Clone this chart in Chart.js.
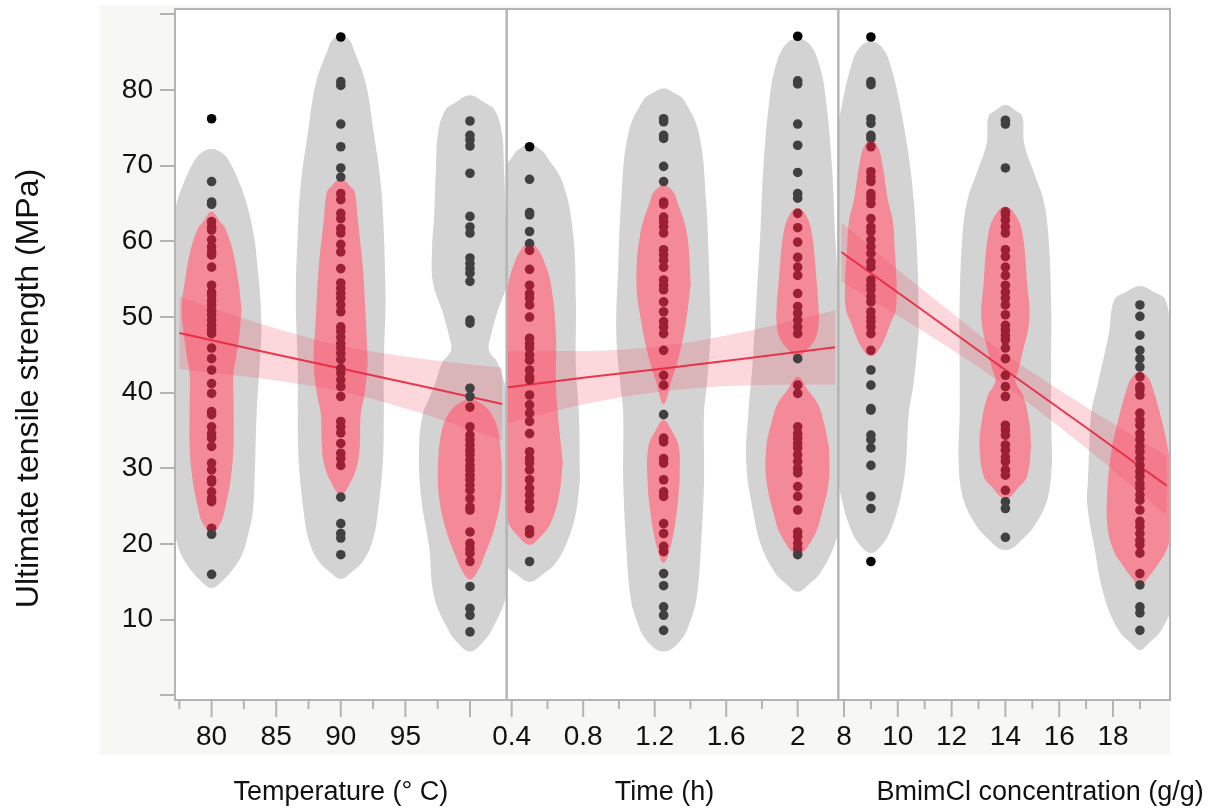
<!DOCTYPE html>
<html lang="en">
<head>
<meta charset="UTF-8">
<title>Ultimate tensile strength vs. process variables</title>
<script src="https://cdn.jsdelivr.net/npm/chart.js@4.4.1/dist/chart.umd.min.js"></script>
<style>
  html, body { margin: 0; padding: 0; background: #fff; }
  #wrap { width: 1227px; height: 809px; }
</style>
</head>
<body>
<div id="wrap"><canvas id="chart" width="1227" height="809"></canvas></div>
<script>
// ---------- axis ticks ----------
const yTicks = [0, 10, 20, 30, 40, 50, 60, 70, 80, 90];
const yLabels = ['', '10', '20', '30', '40', '50', '60', '70', '80', ''];
const yTitle = 'Ultimate tensile strength (MPa)';

const tempTicks = [77.5, 80, 82.5, 85, 87.5, 90, 92.5, 95, 97.5, 100];
const tempMajor = [80, 85, 90, 95, 100];
const tempLabels = ['80', '85', '90', '95', ''];
const tempTitle = 'Temperature (° C)';

const timeTicks = [0.4, 0.6, 0.8, 1.0, 1.2, 1.4, 1.6, 1.8, 2.0];
const timeMajor = [0.4, 0.8, 1.2, 1.6, 2.0];
const timeLabels = ['0.4', '0.8', '1.2', '1.6', '2'];
const timeTitle = 'Time (h)';

const concTicks = [8, 9, 10, 11, 12, 13, 14, 15, 16, 17, 18, 19];
const concMajor = [8, 10, 12, 14, 16, 18];
const concLabels = ['8', '10', '12', '14', '16', '18'];
const concTitle = 'BmimCl concentration (g/g)';

// ---------- measured strengths (MPa) per level ----------
const tempLevels = [80, 90, 100];
const strength80 = [76.2, 67.9, 65.2, 64.9, 62.6, 61.9, 61.5, 60.2, 59.3, 58.6, 58.2, 56.6, 54.2, 53.3, 52.9, 52.2, 51.6, 50.9, 50.3, 49.6, 48.9, 48.3, 47.8, 45.9, 44.5, 43.0, 41.2, 39.9, 37.5, 37.1, 35.5, 34.6, 34.0, 32.9, 30.7, 29.8, 28.5, 28.2, 26.9, 26.0, 25.6, 22.1, 21.3, 16.0];
const strength90 = [87.0, 81.1, 80.6, 75.5, 72.5, 69.7, 68.5, 66.3, 65.5, 63.7, 63.0, 61.7, 61.1, 59.6, 58.6, 56.4, 54.5, 53.8, 53.1, 52.5, 51.6, 50.7, 48.7, 48.1, 47.3, 46.5, 45.9, 45.2, 44.4, 43.2, 42.6, 41.7, 40.8, 39.5, 36.2, 35.5, 34.7, 33.3, 32.0, 31.3, 30.4, 26.2, 22.7, 21.4, 20.8, 18.6];
const strength100 = [75.9, 74.0, 73.4, 72.6, 69.0, 63.3, 61.9, 61.1, 57.8, 57.1, 56.4, 55.8, 54.7, 49.6, 49.2, 40.6, 39.5, 38.1, 35.5, 34.4, 33.8, 33.1, 32.4, 31.8, 31.1, 30.4, 29.8, 29.1, 28.5, 27.8, 27.1, 26.0, 24.9, 24.5, 21.6, 20.1, 19.4, 18.8, 17.7, 14.4, 11.5, 10.6, 8.4];

const timeLevels = [0.5, 1.25, 2];
const strength05h = [72.5, 68.2, 63.8, 63.5, 61.3, 59.7, 58.8, 56.3, 54.2, 53.1, 52.5, 51.6, 50.0, 47.2, 46.5, 45.9, 45.0, 44.3, 43.0, 42.1, 41.7, 39.7, 38.4, 37.3, 36.2, 34.6, 32.2, 31.3, 30.7, 29.8, 28.5, 27.4, 26.5, 25.6, 24.7, 21.9, 21.4, 17.7];
const strength125h = [76.2, 75.8, 74.0, 73.6, 69.9, 67.9, 65.2, 64.9, 63.2, 62.6, 61.9, 61.1, 58.9, 58.2, 57.5, 56.6, 54.9, 54.2, 53.6, 52.0, 50.7, 49.4, 48.7, 47.8, 45.6, 42.3, 41.0, 37.1, 34.0, 33.5, 31.3, 30.7, 28.5, 26.9, 26.3, 22.7, 21.4, 19.7, 19.0, 16.1, 14.5, 11.7, 10.6, 8.6];
const strength2h = [87.1, 81.2, 80.8, 75.5, 72.7, 69.1, 66.3, 65.7, 63.7, 61.8, 59.9, 57.9, 56.6, 55.5, 53.1, 51.4, 50.5, 49.6, 48.7, 47.8, 44.5, 41.0, 39.9, 35.5, 34.6, 34.0, 33.3, 32.7, 31.8, 30.9, 30.0, 29.4, 27.6, 26.3, 24.5, 21.6, 21.0, 20.1, 19.4, 18.6];

const concLevels = [9, 14, 19];
const strength9 = [87.0, 81.1, 80.7, 76.2, 75.6, 74.0, 73.6, 72.5, 69.2, 68.5, 67.9, 66.3, 65.7, 65.0, 63.0, 61.9, 61.3, 60.2, 59.3, 58.4, 57.3, 56.6, 54.9, 54.2, 53.6, 52.7, 52.0, 50.7, 50.0, 49.4, 48.7, 47.8, 45.6, 43.0, 41.0, 37.9, 37.7, 34.4, 33.8, 32.7, 30.4, 26.3, 24.7, 17.7];
const strength14 = [76.0, 75.5, 69.7, 63.9, 63.5, 62.8, 61.9, 61.1, 58.9, 58.0, 56.6, 55.5, 54.2, 53.3, 52.5, 51.6, 50.3, 48.9, 48.3, 47.6, 47.0, 45.9, 44.5, 42.3, 40.8, 39.5, 35.7, 35.1, 34.4, 33.1, 32.4, 31.5, 30.9, 29.8, 29.1, 27.1, 25.6, 24.7, 20.9];
const strength19 = [51.6, 50.1, 47.6, 45.6, 44.5, 43.4, 42.1, 40.8, 40.4, 39.7, 37.3, 36.4, 35.7, 34.6, 33.8, 32.9, 32.2, 31.3, 30.4, 29.6, 28.9, 28.0, 27.4, 26.5, 25.8, 24.5, 23.0, 22.3, 21.4, 20.5, 19.9, 18.8, 16.1, 14.6, 11.7, 10.9, 8.6];

// ---------- density contours: [strength, half width in x units], top to bottom ----------
const outer80 = [[72.2, 0], [71.5, 0.93], [70, 1.55], [68, 2.09], [65.5, 2.63], [61, 3.25], [56.6, 3.56], [52, 3.79], [48, 3.87], [43.4, 3.71], [37, 3.48], [28.5, 3.33], [24, 3.17], [21.5, 2.86], [18.8, 2.40], [16.6, 1.62], [15.3, 0.93], [14.2, 0]];
const inner80 = [[63.9, 0], [62.5, 0.70], [61.9, 1.01], [58.9, 1.62], [54.5, 2.09], [51, 2.32], [48, 2.17], [45, 1.93], [42.5, 1.70], [38, 1.70], [33, 1.70], [28.5, 1.47], [25, 1.08], [22.8, 0.70], [21.6, 0]];
const outer90 = [[87.3, 0], [86.5, 0.70], [85.3, 1.01], [80.9, 1.93], [74.3, 2.55], [67.7, 3.09], [61.1, 3.33], [52.2, 3.48], [43.4, 3.33], [37.3, 3.33], [30.7, 3.25], [24.1, 2.86], [20.5, 2.47], [17.9, 1.78], [16.2, 0.77], [15.4, 0]];
const inner90 = [[68.3, 0], [67.2, 0.77], [66.5, 1.08], [63, 1.31], [56.6, 1.70], [50, 1.93], [44, 2.09], [40, 1.86], [37.3, 1.55], [33, 1.47], [30.7, 1.31], [28.5, 0.85], [26.5, 0]];
const outer100 = [[79.3, 0], [78.3, 1.16], [77.3, 1.93], [74.3, 2.47], [69.8, 2.63], [63.2, 2.78], [58.9, 2.94], [54.5, 2.86], [50.5, 2.09], [47.5, 1.62], [45.6, 1.47], [43.9, 2.17], [41.5, 2.63], [39.5, 3.09], [37.3, 3.63], [32.9, 3.94], [26.3, 3.79], [19.7, 3.17], [13.1, 2.78], [8.7, 1.70], [6.9, 0.93], [5.8, 0]];
const inner100 = [[39.1, 0], [38.5, 0.93], [37.3, 1.62], [35.1, 2.17], [30.7, 2.47], [26.3, 2.40], [21.9, 1.86], [18.3, 1.08], [16.5, 0.62], [15.3, 0]];

const outer05h = [[72.9, 0], [72, 0.068], [71.2, 0.096], [67.7, 0.186], [61.1, 0.243], [52.2, 0.259], [43.4, 0.259], [37.3, 0.276], [28.5, 0.282], [24.1, 0.259], [20.5, 0.214], [17.5, 0.147], [16.1, 0.079], [15, 0]];
const inner05h = [[59.9, 0], [59, 0.045], [57.5, 0.079], [54.5, 0.118], [48, 0.147], [41.3, 0.147], [37.3, 0.158], [30.7, 0.186], [26.3, 0.164], [22.8, 0.118], [21, 0.062], [19.9, 0]];
const outer125h = [[80.2, 0], [79.5, 0.068], [78.7, 0.113], [74.3, 0.197], [65.5, 0.237], [56.6, 0.254], [47.9, 0.265], [41.3, 0.243], [37.3, 0.226], [28.5, 0.226], [19.7, 0.209], [13.1, 0.186], [10, 0.152], [7.3, 0.096], [5.8, 0]];
const inner125hTop = [[67.4, 0], [66.5, 0.056], [65.5, 0.073], [61.1, 0.130], [54.5, 0.152], [49.2, 0.124], [44.8, 0.085], [41.7, 0.045], [38.5, 0]];
const inner125hLow = [[36.4, 0], [35, 0.045], [32.9, 0.085], [28.5, 0.090], [24.1, 0.073], [19.7, 0.039], [17.5, 0]];
const outer2h = [[86.8, 0], [86, 0.068], [83.1, 0.124], [78.7, 0.158], [69.8, 0.192], [61.1, 0.209], [52.2, 0.231], [43.4, 0.254], [37.3, 0.276], [30.7, 0.288], [24.1, 0.248], [19.7, 0.203], [16.1, 0.124], [14.8, 0.068], [13.7, 0]];
const inner2hTop = [[64.4, 0], [63.5, 0.045], [61.1, 0.079], [54.5, 0.107], [51, 0.118], [49.2, 0.118], [47, 0.096], [45.2, 0.034], [44.3, 0]];
const inner2hLow = [[42.1, 0], [40.4, 0.056], [38.5, 0.113], [36, 0.147], [32.9, 0.175], [28.5, 0.175], [24.1, 0.135], [21, 0.090], [18.6, 0]];

const outer9 = [[86.4, 0], [85.5, 0.44], [83.1, 0.74], [78.7, 1.04], [72.1, 1.37], [65.5, 1.59], [56.6, 1.74], [47.9, 1.78], [41.3, 1.59], [37.3, 1.41], [30.7, 1.30], [26.3, 1.11], [21.9, 0.74], [19.7, 0.37], [18.8, 0]];
const inner9 = [[73.4, 0], [72.5, 0.26], [69.9, 0.44], [65.5, 0.63], [62.8, 0.81], [58.9, 0.89], [54.5, 0.96], [51, 0.93], [49.6, 0.78], [46.1, 0.37], [44.8, 0]];
const outer14 = [[78, 0], [77.3, 0.37], [76.5, 0.63], [72.9, 0.70], [69, 1.07], [65.5, 1.41], [61.1, 1.59], [52.2, 1.70], [43.4, 1.70], [37.3, 1.70], [30.7, 1.74], [26.3, 1.59], [23.2, 1.22], [21, 0.74], [19.2, 0]];
const inner14 = [[64.6, 0], [63.5, 0.37], [61.1, 0.63], [54.5, 0.81], [49.6, 0.89], [45.2, 0.63], [43, 0.48], [41.5, 0.37], [39.5, 0.67], [36, 0.89], [32.9, 0.96], [29, 0.81], [27.6, 0.52], [26, 0]];
const outer19 = [[54.1, 0], [53.3, 0.52], [52.2, 0.96], [47.9, 1.15], [41.3, 1.56], [37.3, 1.81], [32, 1.89], [28.5, 1.93], [25.4, 1.96], [19.7, 1.70], [13.1, 1.33], [8.7, 0.81], [6.9, 0.33], [6.0, 0]];
const inner19 = [[42.8, 0], [42, 0.30], [40.8, 0.46], [36.4, 0.81], [32, 1.07], [26.3, 1.22], [21.9, 1.19], [19, 0.96], [17.5, 0.70], [15.7, 0.33], [14.6, 0]];

// ---------- linear fits with confidence band ----------
const tempFitX = [77.5, 83.75, 90, 96.25, 102.5];
const tempFit = [47.9, 45.5, 43.2, 40.9, 38.5];
const tempUpper = [52.7, 49.1, 46.2, 44.5, 43.3];
const tempLower = [43.1, 41.9, 40.2, 37.3, 33.7];

const timeFitX = [0.37, 0.81, 1.25, 1.73, 2.21];
const timeFit = [40.7, 42.0, 43.2, 44.6, 46.0];
const timeUpper = [45.5, 45.5, 46.2, 48.2, 50.9];
const timeLower = [35.9, 38.5, 40.2, 41.0, 41.1];

const concFitX = [7.9, 11, 14, 17, 20];
const concFit = [58.6, 50.7, 43.0, 35.4, 27.7];
const concUpper = [62.5, 53.4, 45.1, 38.1, 31.65];
const concLower = [54.7, 48.0, 40.9, 32.7, 23.75];

// ---------- colours ----------
const FRAME = '#f7f7f3';
const AXIS = '#b4b4b4';
const TEXT = '#111111';
const OUTER = '#d3d3d3';
const INNER = '#f48a98';
const BAND = 'rgba(240, 72, 96, 0.22)';
const FIT = 'rgba(232, 38, 62, 0.9)';
const DOT_INNER = '#9b2034';
const DOT_OUTER = '#404040';
const DOT_BARE = '#050505';
const FONT = '"Liberation Sans", Arial, Helvetica, sans-serif';

const panels = [
  {
    id: 'xTemp', min: 77.167, max: 102.84, ticks: tempTicks, major: tempMajor, labels: tempLabels, title: tempTitle,
    groups: [
      {x: tempLevels[0], values: strength80, outer: [outer80], inner: [inner80]},
      {x: tempLevels[1], values: strength90, outer: [outer90], inner: [inner90]},
      {x: tempLevels[2], values: strength100, outer: [outer100], inner: [inner100]}
    ],
    fitX: tempFitX, fit: tempFit, upper: tempUpper, lower: tempLower
  },
  {
    id: 'xTime', min: 0.3719, max: 2.2274, ticks: timeTicks, major: timeMajor, labels: timeLabels, title: timeTitle,
    groups: [
      {x: timeLevels[0], values: strength05h, outer: [outer05h], inner: [inner05h]},
      {x: timeLevels[1], values: strength125h, outer: [outer125h], inner: [inner125hTop, inner125hLow]},
      {x: timeLevels[2], values: strength2h, outer: [outer2h], inner: [inner2hTop, inner2hLow]}
    ],
    fitX: timeFitX, fit: timeFit, upper: timeUpper, lower: timeLower
  },
  {
    id: 'xConc', min: 7.789, max: 20.119, ticks: concTicks, major: concMajor, labels: concLabels, title: concTitle,
    groups: [
      {x: concLevels[0], values: strength9, outer: [outer9], inner: [inner9]},
      {x: concLevels[1], values: strength14, outer: [outer14], inner: [inner14]},
      {x: concLevels[2], values: strength19, outer: [outer19], inner: [inner19]}
    ],
    fitX: concFitX, fit: concFit, upper: concUpper, lower: concLower
  }
];

// closed outline around a contour, starting on the widest row of the right flank
function outline(cx, profile) {
  const right = profile.map(([v, w]) => ({x: cx + w, y: v}));
  const left = profile.slice(1, -1).reverse().map(([v, w]) => ({x: cx - w, y: v}));
  let pts = right.concat(left);
  let k = 0;
  profile.forEach(([, w], i) => { if (w > profile[k][1]) k = i; });
  pts = pts.slice(k).concat(pts.slice(0, k));
  pts.push(pts[0]);
  return pts;
}

function inside(v, prof) {
  return v < prof[0][0] - 0.4 && v > prof[prof.length - 1][0] + 0.4;
}

function dotColour(v, g) {
  if (g.inner.some(p => inside(v, p))) return DOT_INNER;
  if (g.outer.some(p => inside(v, p))) return DOT_OUTER;
  return DOT_BARE;
}

const zip = (xs, ys) => xs.map((x, i) => ({x, y: ys[i]}));

const datasets = [];
panels.forEach(p => {
  const axes = {xAxisID: p.id, yAxisID: 'y'};
  p.groups.forEach(g => {
    g.outer.forEach(prof => datasets.push({
      ...axes, order: 5, data: outline(g.x, prof), fill: 'shape', backgroundColor: OUTER,
      borderWidth: 0, pointRadius: 0, tension: 0.4
    }));
    g.inner.forEach(prof => datasets.push({
      ...axes, order: 4, data: outline(g.x, prof), fill: 'shape', backgroundColor: INNER,
      borderWidth: 0, pointRadius: 0, tension: 0.4
    }));
    datasets.push({
      ...axes, order: 1, showLine: false, data: g.values.map(v => ({x: g.x, y: v})),
      pointRadius: 4.8, pointBorderWidth: 0, pointBackgroundColor: g.values.map(v => dotColour(v, g))
    });
  });
  // confidence band: upper edge filled down to the lower edge right after it
  datasets.push({
    ...axes, order: 3, data: zip(p.fitX, p.upper), fill: '+1', backgroundColor: BAND,
    borderWidth: 0, pointRadius: 0, cubicInterpolationMode: 'monotone'
  });
  datasets.push({
    ...axes, order: 3, data: zip(p.fitX, p.lower), fill: false,
    borderWidth: 0, pointRadius: 0, cubicInterpolationMode: 'monotone'
  });
  datasets.push({
    ...axes, order: 2, data: zip(p.fitX, p.fit), fill: false, borderColor: FIT,
    borderWidth: 2, pointRadius: 0, tension: 0
  });
});

// Contour fills must stay inside their own panel. The filler paints before the
// dataset clip is applied, so this clip is registered ahead of it.
const panelClip = {
  id: 'panelClip',
  beforeDatasetDraw(chart, args) {
    const xs = args.meta.xScale, a = chart.chartArea, ctx = chart.ctx;
    ctx.save();
    ctx.beginPath();
    ctx.rect(xs.left, a.top, xs.right - xs.left, a.bottom - a.top);
    ctx.clip();
  },
  afterDatasetDraw(chart) {
    chart.ctx.restore();
  }
};
if (Chart.registry && Chart.registry.getPlugin) {
  const filler = Chart.registry.getPlugin('filler');
  Chart.unregister(filler);
  Chart.register(panelClip, filler);
} else {
  Chart.register(panelClip);
}

const frame = {
  id: 'frame',
  beforeDraw(chart) {
    const ctx = chart.ctx, a = chart.chartArea;
    ctx.save();
    ctx.fillStyle = '#fff';
    ctx.fillRect(0, 0, chart.width, chart.height);
    ctx.fillStyle = FRAME;
    ctx.fillRect(a.left - 75, a.top - 4, a.right - a.left + 75, a.bottom - a.top + 59);
    ctx.fillStyle = '#fff';
    ctx.fillRect(a.left, a.top, a.right - a.left, a.bottom - a.top);
    ctx.restore();
  },
  afterDatasetsDraw(chart) {
    const ctx = chart.ctx, a = chart.chartArea;
    ctx.save();
    ctx.strokeStyle = AXIS;
    ctx.lineWidth = 2;
    panels.forEach(p => {
      const s = chart.scales[p.id];
      ctx.strokeRect(s.left, a.top, s.right - s.left, a.bottom - a.top);
    });
    ctx.restore();
  },
  afterDraw(chart) {
    const ctx = chart.ctx, a = chart.chartArea;
    ctx.save();
    // x tick marks: long at labelled positions, short in between
    ctx.strokeStyle = AXIS;
    ctx.lineWidth = 2;
    panels.forEach(p => {
      const s = chart.scales[p.id];
      p.ticks.forEach(v => {
        const x = s.getPixelForValue(v);
        const long = p.major.some(m => Math.abs(m - v) < 1e-9);
        ctx.beginPath();
        ctx.moveTo(x, a.bottom);
        ctx.lineTo(x, a.bottom + (long ? 17 : 9));
        ctx.stroke();
      });
    });
    // axis titles
    ctx.fillStyle = TEXT;
    ctx.textAlign = 'center';
    ctx.font = '27px ' + FONT;
    ctx.textBaseline = 'alphabetic';
    const shifts = [0, -8, 36];
    panels.forEach((p, i) => {
      const s = chart.scales[p.id];
      ctx.fillText(p.title, (s.left + s.right) / 2 + shifts[i], a.bottom + 100);
    });
    ctx.font = '32px ' + FONT;
    ctx.textBaseline = 'middle';
    ctx.translate(29, (a.top + a.bottom) / 2 + 34);
    ctx.rotate(-Math.PI / 2);
    ctx.fillText(yTitle, 0, 0);
    ctx.restore();
  }
};

// the blank end labels still reserve half a line of room; drop it so the
// plot fills the frame exactly
function dropPadding(s) {
  s.paddingTop = 0;
  s.paddingBottom = 0;
  s.paddingLeft = 0;
  s.paddingRight = 0;
}

function xScale(p) {
  return {
    type: 'linear', position: 'bottom', stack: 'panels', stackWeight: 1,
    min: p.min, max: p.max, bounds: 'data',
    afterBuildTicks: s => { s.ticks = p.ticks.map(v => ({value: v})); },
    afterFit: s => { s.height = 109; dropPadding(s); },
    ticks: {
      autoSkip: false, maxRotation: 0, minRotation: 0, padding: 3, color: TEXT,
      font: {size: 28, family: FONT},
      callback: v => {
        const i = p.major.findIndex(m => Math.abs(m - v) < 1e-9);
        return i < 0 ? '' : p.labels[i];
      }
    },
    grid: {display: false, drawTicks: true, tickLength: 17},
    border: {display: false}
  };
}

const scales = {
  y: {
    type: 'linear', position: 'left', min: -0.6, max: 90.7, bounds: 'data',
    afterBuildTicks: s => { s.ticks = yTicks.map(v => ({value: v})); },
    afterFit: s => { s.width = 175; dropPadding(s); },
    ticks: {
      autoSkip: false, padding: 7, color: TEXT, font: {size: 28, family: FONT},
      callback: v => { const i = yTicks.indexOf(v); return i < 0 ? '' : yLabels[i]; }
    },
    grid: {drawOnChartArea: false, drawTicks: true, tickLength: 15, color: AXIS, lineWidth: 2},
    border: {display: false}
  }
};
panels.forEach(p => { scales[p.id] = xScale(p); });

new Chart(document.getElementById('chart'), {
  type: 'line',
  data: {datasets},
  options: {
    responsive: false,
    animation: false,
    events: [],
    layout: {padding: {top: 9, right: 57, bottom: 0, left: 0}},
    plugins: {legend: {display: false}, tooltip: {enabled: false}},
    scales
  },
  plugins: [frame]
});
</script>
</body>
</html>
